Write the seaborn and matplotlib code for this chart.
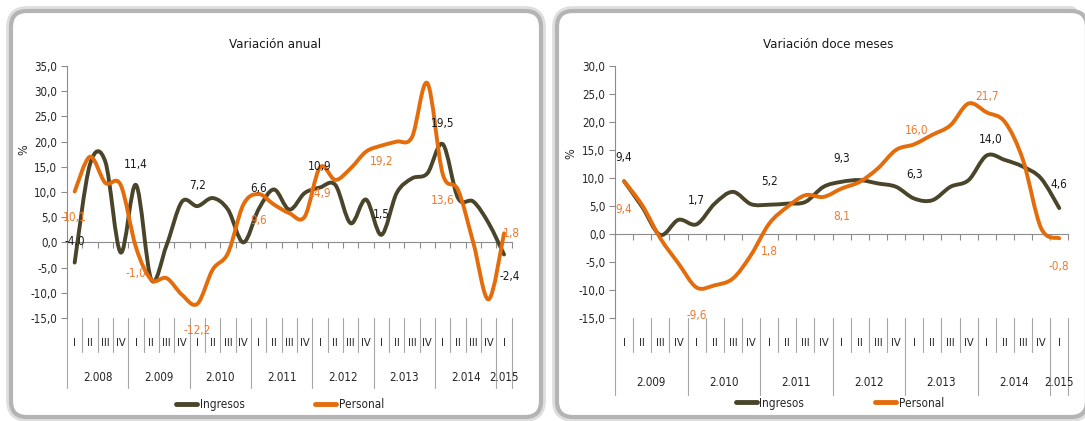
import numpy as np
import pandas as pd
import seaborn as sns
import matplotlib.pyplot as plt
import matplotlib.transforms as mtransforms
from matplotlib import font_manager
from matplotlib.path import Path
from matplotlib.patches import PathPatch, FancyBboxPatch
from matplotlib.lines import Line2D

# ---- datos ----
trimestres_anual = ["I", "II", "III", "IV"] * 7 + ["I"]
anios_anual = ["2.008", "2.009", "2.010", "2.011", "2.012", "2.013", "2.014", "2.015"]
ingresos_anual = [-4.0, 15.5, 16.0, -2.0, 11.4, -7.4, -0.5, 8.1, 7.2, 8.8, 6.5, 0.0, 6.6, 10.5,
                  6.5, 9.8, 10.9, 11.4, 3.8, 8.5, 1.5, 9.8, 12.7, 13.7, 19.5, 8.8, 8.1, 3.8, -2.4]
personal_anual = [10.1, 17.0, 11.8, 11.4, -1.0, -7.4, -7.1, -10.4, -12.2, -5.4, -2.1, 7.5, 9.6, 7.5,
                  5.8, 5.1, 14.9, 12.4, 14.7, 18.0, 19.2, 20.0, 20.9, 31.6, 13.6, 10.4, -0.1, -11.3, 1.8]
etiquetas_anual = [0, 4, 8, 12, 16, 20, 24, 28]

trimestres_doce = ["I", "II", "III", "IV"] * 6 + ["I"]
anios_doce = ["2.009", "2.010", "2.011", "2.012", "2.013", "2.014", "2.015"]
ingresos_doce = [9.4, 4.8, -0.2, 2.5, 1.7, 5.4, 7.5, 5.3, 5.2, 5.4, 5.7, 8.4, 9.3, 9.6, 9.0, 8.4,
                 6.3, 6.0, 8.4, 9.6, 14.0, 13.2, 12.0, 9.9, 4.6]
personal_doce = [9.4, 5.1, -0.8, -5.3, -9.6, -9.2, -8.0, -3.8, 1.8, 4.8, 6.9, 6.6, 8.1, 9.3, 11.7,
                 15.0, 16.0, 17.7, 19.4, 23.3, 21.7, 20.0, 13.2, 1.0, -0.8]
etiquetas_doce = [0, 4, 8, 12, 16, 20, 24]

C_ING = "#4a452a"
C_PER = "#e46c0a"
C_ETQ_PER = "#ec7a2c"
C_EJE = "#8c8c8c"

sns.set_style("white")

# letra estrecha parecida a Calibri si existe
nombres = {f.name for f in font_manager.fontManager.ttflist}
if "Liberation Sans Narrow" in nombres:
    plt.rcParams["font.family"] = ["Liberation Sans Narrow", "DejaVu Sans"]
else:
    plt.rcParams["font.family"] = ["DejaVu Sans"]
    plt.rcParams["font.stretch"] = "condensed"


def fmt(v):
    return f"{v:.1f}".replace(".", ",")


def curva_suave(xy):
    # bezier tipo "linea suavizada" de Excel, pasa por todos los puntos
    n = len(xy)
    verts = [xy[0]]
    codes = [Path.MOVETO]
    for i in range(n - 1):
        p0 = xy[max(i - 1, 0)]
        p1 = xy[i]
        p2 = xy[i + 1]
        p3 = xy[min(i + 2, n - 1)]
        verts += [p1 + (p2 - p0) / 6, p2 - (p3 - p1) / 6, p2]
        codes += [Path.CURVE4] * 3
    return Path(verts, codes)


def panel(ax, trimestres, anios, ingresos, personal, idx_etq, desp_ing, desp_per,
          ylim, y_sep, y_txt, pos_leyenda, pos_pct):
    n = len(trimestres)
    df = pd.DataFrame({
        "t": list(range(n)) * 2,
        "valor": ingresos + personal,
        "serie": ["Ingresos"] * n + ["Personal"] * n,
    })
    sns.lineplot(data=df, x="t", y="valor", hue="serie", errorbar=None,
                 palette={"Ingresos": C_ING, "Personal": C_PER}, ax=ax, legend=False)
    for line in list(ax.get_lines()):
        xy = line.get_xydata()
        ax.add_patch(PathPatch(curva_suave(xy), fill=False, ec=line.get_color(), lw=2.8,
                               capstyle="round", joinstyle="round", zorder=3))
        line.remove()

    ax.set_xlim(-0.5, n - 0.5)
    ax.set_ylim(*ylim)
    yt = np.arange(ylim[0], ylim[1] + 0.1, 5)
    ax.set_yticks(yt)
    ax.set_yticklabels([fmt(v) for v in yt])
    ax.set_xticks(np.arange(n + 1) - 0.5)
    ax.set_xticklabels([])
    ax.tick_params(axis="y", left=True, direction="out", length=4, width=0.8, color=C_EJE,
                   labelsize=8.3, labelcolor="#262626", pad=3)
    ax.tick_params(axis="x", bottom=True, direction="out", length=4.5, width=0.8, color=C_EJE)
    for s in ["top", "right"]:
        ax.spines[s].set_visible(False)
    ax.spines["left"].set_color(C_EJE)
    ax.spines["bottom"].set_color(C_EJE)
    ax.spines["bottom"].set_position(("data", 0))
    ax.patch.set_alpha(0)
    ax.set_xlabel("")
    ax.set_ylabel("%", fontsize=9, color="#262626")
    ax.yaxis.set_label_coords(*pos_pct)

    # etiquetas de datos
    for k, i in enumerate(idx_etq):
        ax.annotate(fmt(ingresos[i]), (i, ingresos[i]), xytext=desp_ing[k], textcoords="offset points",
                    ha="center", va="center", fontsize=8.5, color="#1a1a1a", zorder=4)
        ax.annotate(fmt(personal[i]), (i, personal[i]), xytext=desp_per[k], textcoords="offset points",
                    ha="center", va="center", fontsize=8.5, color=C_ETQ_PER, zorder=4)

    # eje de categorias en dos niveles
    tr = mtransforms.blended_transform_factory(ax.transData, ax.transAxes)
    inicios = [i for i, q in enumerate(trimestres) if q == "I"]
    for b in range(n + 1):
        largo = b in inicios or b == n
        ax.plot([b - 0.5, b - 0.5], [0, y_sep[1] if largo else y_sep[0]], transform=tr,
                color="#a6a6a6", lw=0.8, clip_on=False)
    for i, q in enumerate(trimestres):
        ax.text(i, y_txt[0], q, transform=tr, ha="center", va="center", fontsize=8, color="#262626")
    fines = inicios[1:] + [n]
    for a, i0, i1 in zip(anios, inicios, fines):
        ax.text((i0 + i1 - 1) / 2, y_txt[1], a, transform=tr, ha="center", va="center",
                fontsize=8.3, color="#262626")

    mangos = [Line2D([], [], color=C_ING, lw=3.5, solid_capstyle="round"),
              Line2D([], [], color=C_PER, lw=3.5, solid_capstyle="round")]
    ax.legend(mangos, ["Ingresos", "Personal"], loc="center", bbox_to_anchor=pos_leyenda, ncol=2,
              frameon=False, fontsize=8.5, handlelength=1.8, handletextpad=0.2, columnspacing=6.0)


fig = plt.figure(figsize=(10.85, 4.21), dpi=100)
fig.patch.set_facecolor("white")

# marcos redondeados con sombra (coordenadas en pixeles)
px = mtransforms.Affine2D().scale(1 / 1085, 1 / 421) + fig.transFigure
for x0, w in [(11, 530), (557, 530)]:
    fig.add_artist(FancyBboxPatch((x0, 4), w, 406, boxstyle="round,pad=0,rounding_size=16",
                                  fc="none", ec="#dedede", lw=7, transform=px, zorder=0))
    fig.add_artist(FancyBboxPatch((x0, 4), w, 406, boxstyle="round,pad=0,rounding_size=16",
                                  fc="white", ec="#b4b4b4", lw=3, transform=px, zorder=0))

ax1 = fig.add_axes([67 / 1085, 1 - 318 / 421, 444.7 / 1085, 252 / 421])
ax2 = fig.add_axes([615 / 1085, 1 - 317.7 / 421, 453.3 / 1085, 251.7 / 421])

panel(ax1, trimestres_anual, anios_anual, ingresos_anual, personal_anual, etiquetas_anual,
      desp_ing=[(0, 15)] * 7 + [(4, -16)],
      desp_per=[(0, -19)] * 5 + [(0, -11.5), (0, -19), (5, 0)],
      ylim=(-15, 35), y_sep=(-0.135, -0.278), y_txt=(-0.099, -0.238),
      pos_leyenda=(0.479, -0.345), pos_pct=(-0.083, 0.667))

panel(ax2, trimestres_doce, anios_doce, ingresos_doce, personal_doce, etiquetas_doce,
      desp_ing=[(0, 17)] * 5 + [(3, 11.5), (0, 17)],
      desp_per=[(0, -20)] * 4 + [(2, 10), (0, 11.5), (0, -20)],
      ylim=(-15, 30), y_sep=(-0.136, -0.307), y_txt=(-0.10, -0.259),
      pos_leyenda=(0.496, -0.339), pos_pct=(-0.082, 0.653))

fig.text(275 / 1085, 1 - 45 / 421, "Variación anual", ha="center", va="center", fontsize=9.5,
         color="#1a1a1a")
fig.text(828 / 1085, 1 - 45 / 421, "Variación doce meses", ha="center", va="center", fontsize=9.5,
         color="#1a1a1a")

fig.savefig("out.png", dpi=100, facecolor="white")
